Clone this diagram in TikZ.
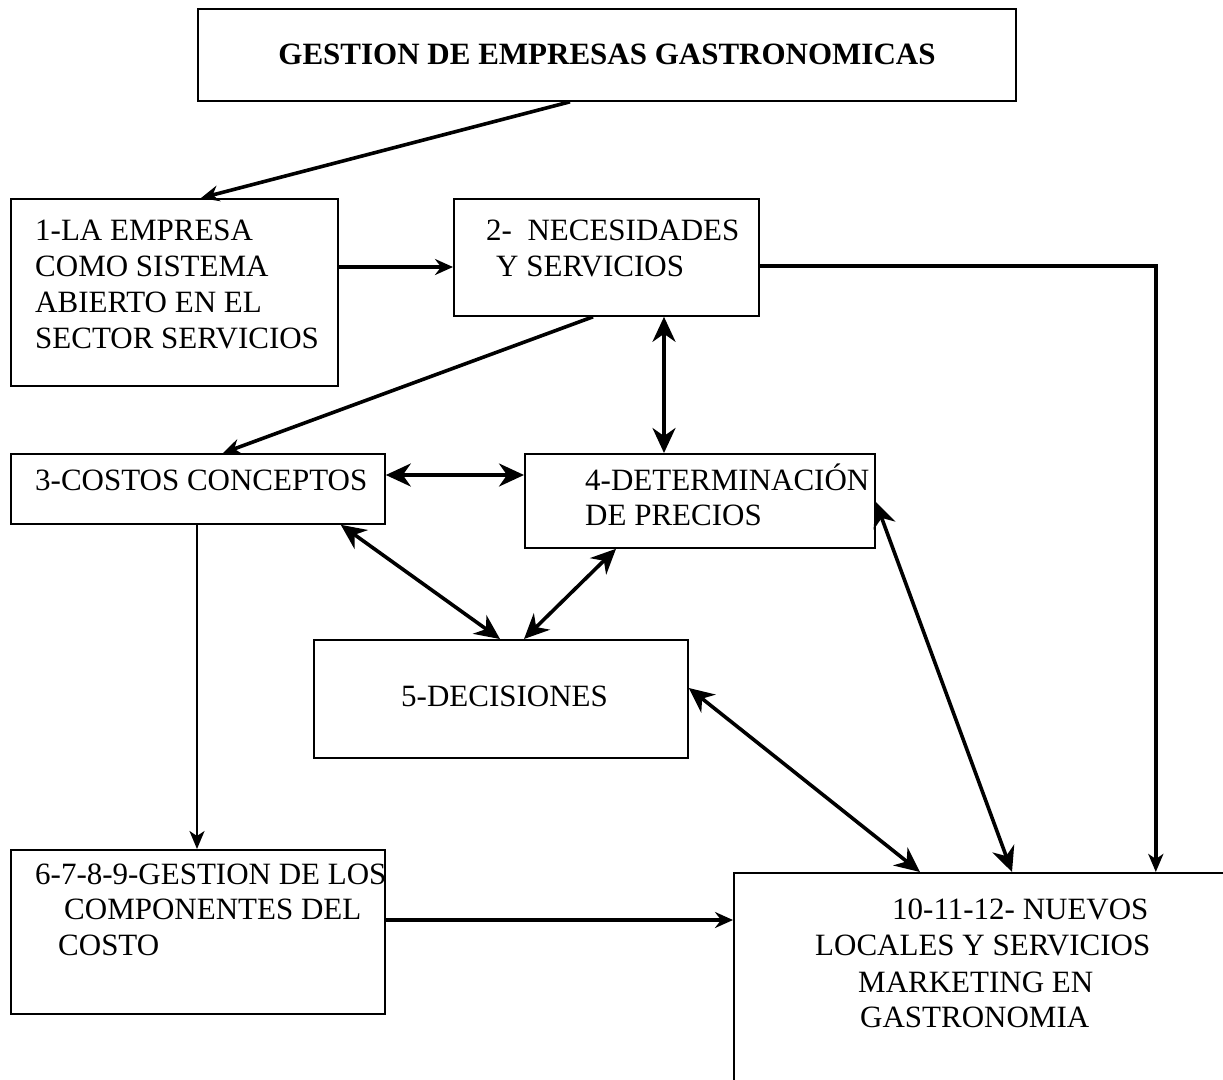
\documentclass[tikz,border=0pt]{standalone}
\usepackage{fontspec}
\setmainfont{Liberation Serif}
\usetikzlibrary{arrows.meta}
\begin{document}
\begin{tikzpicture}[x=1pt,y=-1pt,
  box/.style={draw,line width=1.8pt,inner sep=0pt,anchor=north west},
  txt/.style={inner sep=0pt,anchor=base west,font=\fontsize{31}{36}\selectfont},
  conn/.style={line width=3.6pt},
  tipbig/.tip={Stealth[length=25pt,width=23pt,inset=8pt]},
  tipsmall/.tip={Stealth[length=18pt,width=16pt,inset=6pt]},
  tipthin/.tip={Stealth[length=18pt,width=15pt,inset=5pt]}]
\useasboundingbox (0,0) rectangle (1223,1079);
\clip (0,0) rectangle (1223,1079);
% boxes
\node[box,minimum width=818pt,minimum height=92pt] (b0) at (197,8) {};
\node[box,minimum width=327pt,minimum height=187pt] (b1) at (10,198) {};
\node[box,minimum width=305pt,minimum height=117pt] (b2) at (453,198) {};
\node[box,minimum width=374pt,minimum height=70pt] (b3) at (10,453) {};
\node[box,minimum width=350pt,minimum height=94pt] (b4) at (524,453) {};
\node[box,minimum width=374pt,minimum height=118pt] (b5) at (313,639) {};
\node[box,minimum width=374pt,minimum height=164pt] (b6) at (10,849) {};
\node[box,minimum width=520pt,minimum height=240pt] (b10) at (733,872) {};
% texts
\node[inner sep=0pt,anchor=base,font=\fontsize{31}{36}\selectfont\bfseries] (t0) at (607,64) {GESTION DE EMPRESAS GASTRONOMICAS};
\node[txt] (t1a) at (35,240) {1-LA EMPRESA};
\node[txt] (t1b) at (35,276) {COMO SISTEMA};
\node[txt] (t1c) at (35,312) {ABIERTO EN EL};
\node[txt] (t1d) at (35,348) {SECTOR SERVICIOS};
\node[txt] (t2a) at (486,240) {2-\hspace{0.5em}NECESIDADES};
\node[txt] (t2b) at (496,276) {Y SERVICIOS};
\node[txt] (t3) at (35,490) {3-COSTOS CONCEPTOS};
\node[txt] (t4a) at (585,490) {4-DETERMINACIÓN};
\node[txt] (t4b) at (585,525) {DE PRECIOS};
\node[txt] (t5) at (401,706) {5-DECISIONES};
\node[txt] (t6a) at (35,884) {6-7-8-9-GESTION DE LOS};
\node[txt] (t6b) at (64,919) {COMPONENTES DEL};
\node[txt] (t6c) at (58,955) {COSTO};
\node[txt] (t10a) at (892,919) {10-11-12- NUEVOS};
\node[txt] (t10b) at (815,955) {LOCALES Y SERVICIOS};
\node[txt] (t10c) at (858,992) {MARKETING EN};
\node[txt] (t10d) at (860,1027) {GASTRONOMIA};
% connectors
\draw[conn,-{tipsmall}] ([xshift=373pt]b0.south west) -- ([xshift=191pt]b1.north west);
\draw[conn,-{tipsmall}] ([yshift=-69pt]b1.north east) -- ([yshift=-69pt]b2.north west);
\coordinate (c1) at ([xshift=396pt,yshift=-68pt]b2.north east);
\draw[conn,-{tipthin}] ([yshift=-68pt]b2.north east) -- (c1) -- (c1 |- b10.north);
\draw[conn,-{tipsmall}] ([xshift=140pt]b2.south west) -- ([xshift=213pt]b3.north west);
\draw[conn,{tipbig}-{tipbig}] ([xshift=211pt]b2.south west) -- ([xshift=140pt]b4.north west);
\draw[conn,{tipbig}-{tipbig}] ([yshift=-22pt]b3.north east) -- ([yshift=-22pt]b4.north west);
\draw[conn,{tipbig}-{tipbig}] ([xshift=-45pt]b3.south east) -- ([xshift=187pt]b5.north west);
\draw[conn,{tipbig}-{tipbig}] ([xshift=92pt]b4.south west) -- ([xshift=211pt]b5.north west);
\draw[conn,{tipbig}-{tipbig}] ([yshift=-49pt]b5.north east) -- ([xshift=187pt]b10.north west);
\draw[conn,{tipbig}-{tipbig}] ([yshift=-49pt]b4.north east) -- ([xshift=279pt]b10.north west);
\draw[line width=2.4pt,-{tipthin}] ([xshift=187pt]b3.south west) -- ([xshift=187pt]b6.north west);
\draw[conn,-{tipsmall}] ([yshift=-71pt]b6.north east) -- ([yshift=-48pt]b10.north west);
\end{tikzpicture}
\end{document}
